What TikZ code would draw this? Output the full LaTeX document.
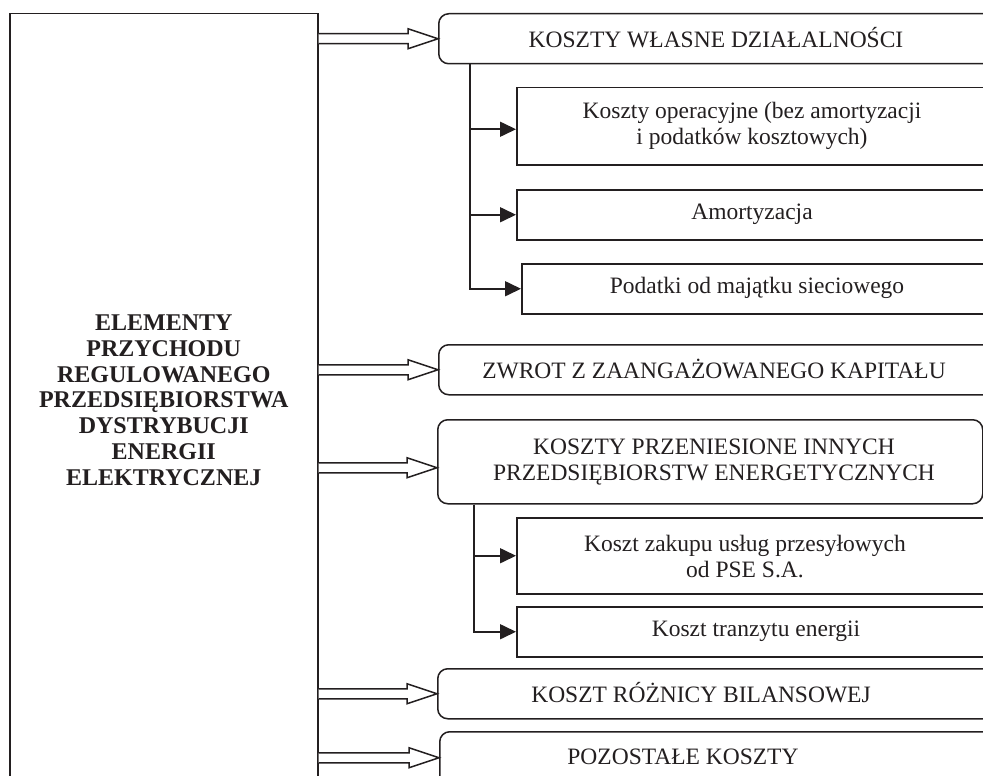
\documentclass[tikz,border=0pt]{standalone}
\usepackage{fontspec}
\setmainfont{Liberation Serif}
\usetikzlibrary{arrows.meta,calc}
\definecolor{ink}{HTML}{231F20}
\tikzset{
  every node/.style={color=ink},
  mainbox/.style={draw=ink, line width=1.5pt, minimum width=308pt, minimum height=773pt, inner sep=0pt,
    font=\fontsize{24}{25.8}\selectfont\bfseries, align=center, text=ink},
  rbox/.style={draw=ink, line width=1.5pt, rounded corners=10pt, inner sep=0pt},
  sbox/.style={draw=ink, line width=1.5pt, inner sep=0pt},
  txt/.style={font=\fontsize{23.5}{26}\selectfont, align=center, inner sep=0pt, text=ink},
  conn/.style={draw=ink, line width=1.6pt, -{Triangle[length=16pt,width=15pt]}},
  hollow/.style={draw=ink, line width=1.5pt, fill=white, line join=miter},
}
\newcommand\harrow[2]{%
  \coordinate (tip) at ($(#1.west)+(0,#2)$);
  \draw[hollow] ($(main.east|-tip)+(0,-5)$) -- ($(tip)+(-30,-5)$) -- ($(tip)+(-30,-10)$)
    -- (tip) -- ($(tip)+(-30,10)$) -- ($(tip)+(-30,5)$) -- ($(main.east|-tip)+(0,5)$);
}
\begin{document}
\begin{tikzpicture}[x=1pt,y=-1pt]
\useasboundingbox (0,0) rectangle (983,776);
\clip (0,0) rectangle (983,776);
% main box
\node[mainbox, anchor=north west] (main) at (9,13) {ELEMENTY\\PRZYCHODU\\REGULOWANEGO\\PRZEDSIĘBIORSTWA\\DYSTRYBUCJI\\ENERGII\\ELEKTRYCZNEJ};
% right boxes
\node[rbox, anchor=north west, minimum width=620pt, minimum height=50pt] (b1) at (438,13) {};
\node[txt] (t1) at (716,38) {KOSZTY WŁASNE DZIAŁALNOŚCI};
\node[sbox, anchor=north west, minimum width=600pt, minimum height=77pt] (s1) at (516,87) {};
\node[txt] (ts1) at (752,126) {Koszty operacyjne (bez amortyzacji\\i podatków kosztowych)};
\node[sbox, anchor=north west, minimum width=600pt, minimum height=50pt] (s2) at (516,189) {};
\node[txt] (ts2) at (752,214) {Amortyzacja};
\node[sbox, anchor=north west, minimum width=600pt, minimum height=50pt] (s3) at (521,263) {};
\node[txt] (ts3) at (757,288) {Podatki od majątku sieciowego};
\node[rbox, anchor=north west, minimum width=620pt, minimum height=50pt] (b2) at (438,344) {};
\node[txt] (t2) at (714,369) {ZWROT Z ZAANGAŻOWANEGO KAPITAŁU};
\node[rbox, anchor=north west, minimum width=545pt, minimum height=84pt] (b3) at (437,419) {};
\node[txt] (t3) at (714,462) {KOSZTY PRZENIESIONE INNYCH\\PRZEDSIĘBIORSTW ENERGETYCZNYCH};
\node[sbox, anchor=north west, minimum width=600pt, minimum height=76pt] (s4) at (516,517) {};
\node[txt] (ts4) at (745,557) {Koszt zakupu usług przesyłowych\\od PSE S.A.};
\node[sbox, anchor=north west, minimum width=600pt, minimum height=50pt] (s5) at (516,606) {};
\node[txt] (ts5) at (756,631) {Koszt tranzytu energii};
\node[rbox, anchor=north west, minimum width=620pt, minimum height=50pt] (b4) at (437,668) {};
\node[txt] (t4) at (701,693) {KOSZT RÓŻNICY BILANSOWEJ};
\node[rbox, anchor=north west, minimum width=620pt, minimum height=60pt] (b5) at (439,731) {};
\node[txt] (t5) at (683,757) {POZOSTAŁE KOSZTY};
% hollow arrows
\harrow{b1}{0}
\harrow{b2}{0}
\harrow{b3}{6}
\harrow{b4}{0}
\harrow{b5}{-4}
% branch connectors
\coordinate (v1) at (b1.south west -| 470,0);
\coordinate (v2) at (b3.south west -| 474,0);
\draw[conn] (v1) |- ($(s1.west)+(0,3)$);
\draw[conn] (v1) |- (s2.west);
\draw[conn] (v1) |- (s3.west);
\draw[conn] (v2) |- (s4.west);
\draw[conn] (v2) |- (s5.west);
\end{tikzpicture}
\end{document}
